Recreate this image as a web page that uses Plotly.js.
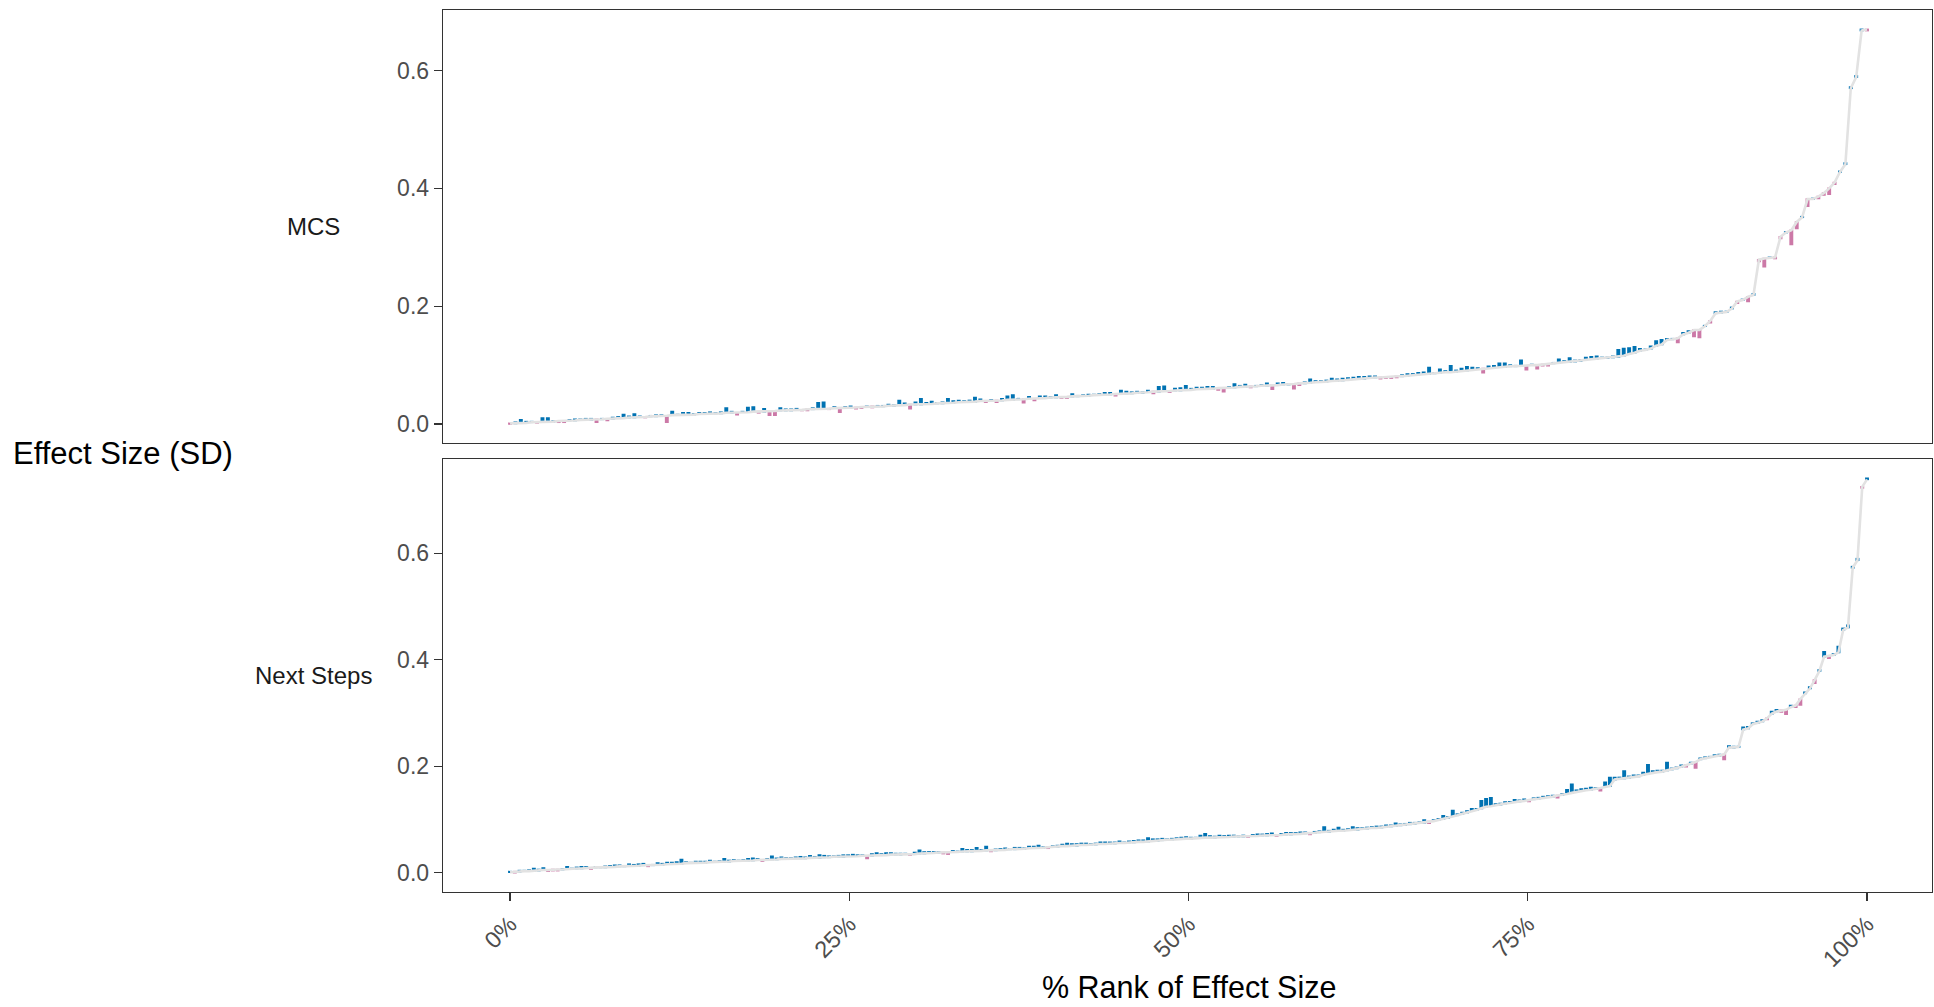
<!DOCTYPE html>
<html>
<head>
<meta charset="utf-8">
<script src="https://cdn.plot.ly/plotly-3.0.1.min.js"></script>
<style>
html,body{margin:0;padding:0;background:#ffffff;}
#chart{width:1934px;height:1007px;}
</style>
</head>
<body>
<div id="chart"></div>
<script>
// ---------------- DATA ----------------
const panelNames = ['MCS', 'Next Steps'];

// MCS: sorted effect sizes (SD) and the signed difference drawn as a bar at each point
const mcsEffect = [
0.001,0.001,0.002,0.002,0.003,0.003,0.004,0.004,0.004,0.005,
0.005,0.006,0.006,0.007,0.007,0.007,0.008,0.008,0.009,0.009,
0.010,0.010,0.011,0.011,0.012,0.012,0.013,0.013,0.014,0.014,
0.015,0.015,0.016,0.016,0.016,0.017,0.017,0.018,0.018,0.018,
0.019,0.019,0.019,0.020,0.020,0.021,0.021,0.021,0.022,0.022,
0.023,0.023,0.023,0.024,0.024,0.025,0.025,0.025,0.026,0.026,
0.027,0.027,0.028,0.028,0.028,0.029,0.029,0.030,0.030,0.030,
0.031,0.031,0.032,0.032,0.033,0.033,0.033,0.034,0.034,0.035,
0.035,0.036,0.036,0.037,0.037,0.038,0.038,0.039,0.039,0.039,
0.040,0.040,0.041,0.041,0.042,0.042,0.043,0.043,0.044,0.044,
0.045,0.045,0.046,0.046,0.047,0.047,0.048,0.048,0.049,0.049,
0.050,0.050,0.051,0.051,0.052,0.052,0.053,0.053,0.054,0.055,
0.055,0.056,0.056,0.057,0.057,0.058,0.058,0.059,0.059,0.060,
0.060,0.061,0.061,0.062,0.062,0.063,0.063,0.064,0.064,0.065,
0.065,0.066,0.066,0.067,0.067,0.068,0.069,0.069,0.070,0.071,
0.071,0.072,0.073,0.073,0.074,0.075,0.076,0.076,0.077,0.078,
0.079,0.079,0.080,0.080,0.081,0.081,0.082,0.083,0.084,0.085,
0.085,0.086,0.087,0.088,0.088,0.089,0.090,0.091,0.092,0.093,
0.094,0.095,0.096,0.097,0.097,0.098,0.098,0.099,0.099,0.100,
0.100,0.101,0.101,0.103,0.104,0.105,0.105,0.106,0.107,0.109,
0.110,0.111,0.112,0.112,0.113,0.114,0.116,0.119,0.121,0.1245,
0.1256,0.128,0.133,0.135,0.1426,0.1438,0.1455,0.152,0.155,0.1596,
0.1598,0.166,0.175,0.188,0.189,0.190,0.196,0.208,0.2105,0.216,
0.219,0.279,0.281,0.282,0.283,0.318,0.325,0.329,0.343,0.351,
0.382,0.382,0.386,0.392,0.400,0.410,0.428,0.441,0.570,0.589,
0.668,0.670
];
const mcsDiff = [
-0.001,0.002,0.005,0.002,0.001,-0.001,0.006,0.006,0.001,-0.002,
-0.002,0.001,0.002,0.001,0.002,0.002,-0.005,0.001,-0.003,0.002,
0.002,0.006,0.002,0.006,0.001,-0.001,0.001,0.002,0.001,-0.011,
0.006,0.001,0.003,0.003,0.001,0.002,0.002,0.002,0.001,0.002,
0.008,0.002,-0.003,0.001,0.008,0.008,-0.002,0.005,-0.007,-0.007,
0.004,0.002,0.002,0.002,-0.001,-0.002,0.002,0.011,0.011,-0.001,
0.002,-0.007,0.001,0.002,-0.002,-0.002,0.001,-0.002,0.001,0.001,
0.002,0.001,0.008,0.003,-0.007,0.004,0.010,0.002,0.004,0.001,
0.002,0.007,0.003,0.003,0.002,0.002,0.007,0.003,-0.002,0.002,
-0.003,0.003,0.006,0.008,0.001,-0.006,0.003,-0.003,0.003,0.003,
0.001,0.004,-0.002,-0.002,0.004,0.001,0.001,0.002,0.001,0.002,
0.003,0.003,-0.003,0.006,0.003,0.002,0.002,0.001,0.003,-0.003,
0.008,0.008,-0.002,0.003,0.004,0.007,0.002,0.003,0.003,0.003,
0.003,-0.003,-0.006,0.001,0.006,0.002,0.004,-0.002,0.001,0.001,
0.004,-0.007,0.003,0.003,0.001,-0.008,-0.003,0.002,0.006,0.002,
0.002,0.002,0.004,0.003,0.003,0.003,0.003,0.004,0.003,0.003,
0.002,-0.002,-0.002,-0.002,-0.002,0.002,0.003,0.002,0.003,0.003,
0.011,0.001,0.006,0.002,0.011,0.002,0.004,0.006,0.004,0.002,
-0.007,0.003,0.003,0.006,0.006,0.002,0.001,0.009,-0.007,0.001,
-0.006,-0.002,-0.002,0.001,0.006,0.002,0.007,0.002,0.002,0.004,
0.004,0.004,0.001,0.001,0.002,0.012,0.012,0.010,0.010,0.003,
0.001,0.004,0.008,0.008,0.002,0.001,-0.007,0.003,0.003,-0.011,
-0.013,0.001,-0.003,0.002,0.002,0.001,0.002,-0.003,0.001,-0.008,
0.002,-0.003,-0.014,0.001,-0.002,-0.003,0.001,-0.024,-0.011,0.001,
-0.012,0.001,-0.003,-0.003,-0.010,-0.003,0.001,0.002,0.002,0.002,
0.002,-0.002
];

// Next Steps
const nsEffect = [
0.001,0.002,0.002,0.003,0.003,0.004,0.004,0.005,0.005,0.006,
0.006,0.006,0.007,0.007,0.008,0.008,0.009,0.009,0.010,0.010,
0.010,0.011,0.011,0.012,0.012,0.013,0.013,0.013,0.014,0.014,
0.014,0.015,0.015,0.016,0.016,0.017,0.017,0.018,0.018,0.018,
0.019,0.019,0.020,0.020,0.020,0.021,0.021,0.022,0.022,0.022,
0.023,0.023,0.024,0.024,0.024,0.025,0.025,0.026,0.026,0.026,
0.027,0.027,0.027,0.028,0.028,0.028,0.029,0.029,0.030,0.030,
0.030,0.031,0.031,0.031,0.032,0.032,0.032,0.033,0.033,0.033,
0.034,0.034,0.034,0.035,0.035,0.035,0.036,0.036,0.037,0.037,
0.038,0.038,0.038,0.039,0.039,0.040,0.040,0.040,0.041,0.041,
0.042,0.042,0.042,0.043,0.043,0.044,0.044,0.045,0.045,0.046,
0.046,0.047,0.047,0.048,0.049,0.049,0.050,0.050,0.051,0.051,
0.052,0.052,0.053,0.053,0.054,0.054,0.055,0.055,0.056,0.056,
0.057,0.057,0.058,0.058,0.059,0.060,0.060,0.061,0.062,0.062,
0.063,0.063,0.064,0.064,0.065,0.065,0.066,0.066,0.066,0.067,
0.067,0.067,0.068,0.068,0.068,0.069,0.069,0.069,0.070,0.070,
0.071,0.071,0.071,0.072,0.072,0.073,0.073,0.074,0.074,0.075,
0.076,0.077,0.077,0.078,0.079,0.079,0.080,0.081,0.081,0.082,
0.083,0.084,0.084,0.085,0.086,0.087,0.088,0.089,0.090,0.091,
0.092,0.093,0.094,0.096,0.097,0.099,0.101,0.103,0.106,0.108,
0.111,0.113,0.116,0.118,0.121,0.124,0.125,0.127,0.128,0.130,
0.131,0.133,0.134,0.135,0.137,0.138,0.139,0.140,0.142,0.143,
0.145,0.146,0.148,0.150,0.152,0.154,0.155,0.156,0.157,0.159,
0.161,0.163,0.175,0.176,0.177,0.178,0.180,0.181,0.184,0.186,
0.188,0.189,0.190,0.192,0.194,0.196,0.199,0.202,0.205,0.208,
0.213,0.215,0.217,0.219,0.220,0.222,0.235,0.235,0.236,0.269,
0.271,0.279,0.281,0.284,0.290,0.299,0.303,0.305,0.306,0.311,
0.314,0.326,0.337,0.346,0.362,0.379,0.406,0.407,0.409,0.414,
0.456,0.461,0.573,0.587,0.725,0.739
];
const nsDiff = [
0.001,-0.002,0.002,0.001,0.002,0.004,0.002,0.004,-0.002,-0.002,
-0.002,0.001,0.004,0.001,0.002,0.003,0.002,-0.002,0.001,0.001,
0.002,0.002,0.003,0.002,0.001,0.003,0.002,0.003,0.003,-0.002,
0.001,0.003,0.002,0.003,0.003,0.003,0.008,0.002,0.001,0.003,
0.002,0.002,0.003,0.001,0.002,0.005,0.002,0.002,0.001,0.002,
0.003,0.004,0.002,-0.002,0.002,0.006,0.002,0.003,0.002,0.002,
0.002,0.003,0.002,0.004,0.002,0.005,0.003,0.002,0.001,0.002,
0.003,0.002,0.003,0.002,0.001,-0.005,0.003,0.004,0.002,0.004,
0.003,0.002,0.002,0.001,-0.002,0.003,0.006,0.003,0.002,0.002,
0.001,-0.002,-0.003,0.002,0.001,0.005,0.003,0.003,0.006,0.002,
0.007,-0.002,0.002,0.002,0.003,0.001,0.003,0.002,0.001,0.003,
0.003,0.004,0.001,-0.002,0.001,0.002,0.003,0.005,0.003,0.003,
0.003,0.003,0.001,0.002,0.003,0.003,0.002,0.002,0.003,0.001,
0.002,0.003,0.003,0.003,0.006,0.003,0.003,0.003,0.001,0.002,
0.002,0.003,0.003,0.002,0.001,0.005,0.007,0.003,0.002,0.003,
0.002,0.003,0.002,0.001,0.002,-0.002,0.002,0.003,0.002,0.003,
0.003,-0.002,0.002,0.003,0.003,0.002,0.003,0.002,-0.002,0.002,
0.002,0.009,0.002,0.003,0.006,0.002,0.002,0.005,0.003,0.002,
0.002,0.002,0.003,0.002,0.003,0.002,0.005,0.002,0.002,0.003,
0.002,0.002,0.005,-0.003,0.002,0.002,0.006,0.002,0.011,0.002,
0.002,0.003,0.004,0.002,0.014,0.015,0.016,0.002,0.002,0.003,
0.002,0.004,0.002,0.003,-0.003,0.002,0.002,0.003,0.002,0.002,
-0.004,0.002,0.008,0.016,0.003,0.003,0.003,0.004,0.002,-0.005,
0.009,0.016,0.004,0.003,0.014,0.003,0.003,0.002,0.004,0.017,
0.003,0.003,0.002,0.015,0.002,0.002,0.003,-0.003,0.002,-0.011,
0.002,0.002,0.001,0.002,0.002,-0.009,0.003,0.002,0.001,0.004,
0.003,0.002,0.003,0.003,-0.002,0.004,0.003,-0.003,-0.008,0.003,
-0.003,-0.011,0.002,0.003,-0.006,0.002,0.009,-0.004,0.002,0.011,
0.003,0.004,0.002,0.003,-0.002,0.002
];

const xTickVals = [0, 0.25, 0.5, 0.75, 1];
const xTickText = ['0%', '25%', '50%', '75%', '100%'];
const yTickVals = [0, 0.2, 0.4, 0.6];
const yTickText = ['0.0', '0.2', '0.4', '0.6'];
const xTitle = '% Rank of Effect Size';
const yTitle = 'Effect Size (SD)';

// ---------------- STYLE ----------------
const FONT = '"Liberation Sans", Arial, Helvetica, sans-serif';
const LINE_COLOR = '#E2E2E2';
const POS_COLOR = '#0072B2';
const NEG_COLOR = '#CC79A7';
const BAR_W = 0.0017;

function rankOf(arr) { return arr.map((_, i) => i / (arr.length - 1)); }

function panelTraces(effect, diff, xa, ya) {
  const x = rankOf(effect);
  const cols = diff.map(d => d >= 0 ? POS_COLOR : NEG_COLOR);
  return [
    { type: 'scatter', mode: 'lines', x: x, y: effect, xaxis: xa, yaxis: ya,
      line: { color: LINE_COLOR, width: 2.6 }, hoverinfo: 'skip' },
    { type: 'bar', x: x, y: diff, base: effect, xaxis: xa, yaxis: ya,
      width: BAR_W,
      marker: { color: cols, line: { width: 1.6, color: cols } },
      hoverinfo: 'skip' }
  ];
}

const traces = [].concat(
  panelTraces(mcsEffect, mcsDiff, 'x', 'y'),
  panelTraces(nsEffect, nsDiff, 'x2', 'y2')
);

const frame = { showline: true, mirror: true, linecolor: '#333333', linewidth: 1.3,
  showgrid: false, zeroline: false };
const xRange = [-0.0494, 1.0479];
const yTickStyle = { ticks: 'outside', ticklen: 8, tickwidth: 1.3, tickcolor: '#333333',
  tickfont: { family: FONT, size: 23, color: '#4D4D4D' },
  tickmode: 'array', tickvals: yTickVals, ticktext: yTickText };

const layout = {
  width: 1934, height: 1007,
  margin: { l: 443, r: 2, t: 10, b: 115 },
  paper_bgcolor: '#ffffff', plot_bgcolor: '#ffffff',
  showlegend: false, barmode: 'overlay',
  font: { family: FONT },
  xaxis: Object.assign({}, frame, { domain: [0, 1], anchor: 'y', range: xRange,
    ticks: '', showticklabels: false }),
  yaxis: Object.assign({}, frame, yTickStyle, { domain: [0.5091, 1], anchor: 'x',
    range: [-0.0322, 0.7029] }),
  xaxis2: Object.assign({}, frame, { domain: [0, 1], anchor: 'y2', range: xRange,
    tickmode: 'array', tickvals: xTickVals, ticktext: xTickText, tickangle: -45,
    ticks: 'outside', ticklen: 8, tickwidth: 1.3, tickcolor: '#333333',
    tickfont: { family: FONT, size: 23.5, color: '#4D4D4D' } }),
  yaxis2: Object.assign({}, frame, yTickStyle, { domain: [0, 0.4909], anchor: 'x2',
    range: [-0.0362, 0.7772] }),
  annotations: [
    { text: yTitle, xref: 'paper', yref: 'paper', x: -0.2146, y: 0.4977,
      xanchor: 'center', yanchor: 'middle', showarrow: false,
      font: { family: FONT, size: 31, color: '#000000' } },
    { text: xTitle, xref: 'paper', yref: 'paper', x: 0.501, y: -0.1077,
      xanchor: 'center', yanchor: 'middle', showarrow: false,
      font: { family: FONT, size: 30.5, color: '#000000' } },
    { text: panelNames[0], xref: 'paper', yref: 'paper', x: -0.0873, y: 0.7545,
      xanchor: 'center', yanchor: 'middle', showarrow: false,
      font: { family: FONT, size: 24, color: '#1A1A1A' } },
    { text: panelNames[1], xref: 'paper', yref: 'paper', x: -0.0868, y: 0.2449,
      xanchor: 'center', yanchor: 'middle', showarrow: false,
      font: { family: FONT, size: 24, color: '#1A1A1A' } }
  ]
};

Plotly.newPlot('chart', traces, layout, { staticPlot: true, displayModeBar: false });
</script>
</body>
</html>
